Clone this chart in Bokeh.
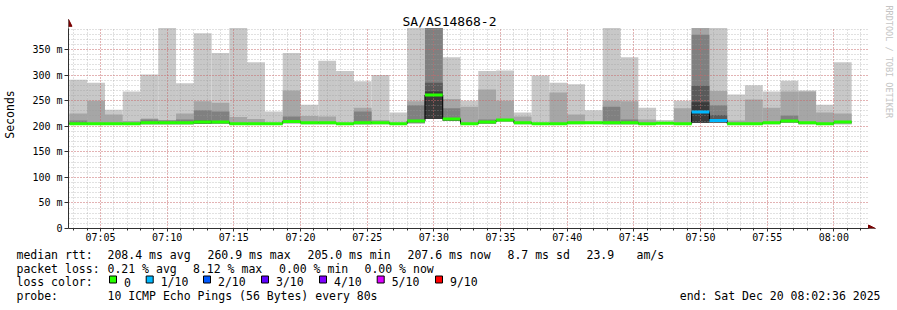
import math
from datetime import datetime, timedelta
from bokeh.plotting import figure
from bokeh.models import (ColumnDataSource, Range1d, FixedTicker, DatetimeTickFormatter,
                          Label, Arrow, NormalHead)
from bokeh.core.properties import value
from bokeh.embed import file_html
from bokeh.resources import INLINE

# ---------------- data ----------------
title = "SA/AS14868-2"
first_bar = datetime(2025, 12, 20, 7, 2, 40)
step_seconds = 80
view_start = datetime(2025, 12, 20, 7, 2, 36)
view_end = datetime(2025, 12, 20, 8, 2, 36)
y_top = 392  # top of the graph area (ms)

# smoke: upper ping values per 80 s step (ms); None = layer not visible
ping_max = [291, 285, 232, 268, 301, 392, 284, 382, 343, 392, 325, 229, 343, 242, 328, 308, 288, 300, 227, 392,
            392, 335, 250, 308, 309, 227, 299, 285, 282, 231, 392, 335, 236, 212, 250, 392, 392, 262, 280, 268,
            289, 270, 242, 325]
smoke2 = [225, 250, 223, 210, 215, 212, 225, 249, 246, 218, 214, None, 270, 220, 219, None, 236, 212, None, 249,
          392, 253, 238, 272, 250, 219, None, 266, 223, None, 250, 249, 213, None, 235, 392, 269, 211, 252, 236,
          268, 268, 227, 225]
smoke3 = [211, None, None, None, 213, 211, 213, 231, 229, None, None, None, 219, None, None, None, 229, None, None, 241,
          392, 235, None, 213, None, None, None, None, None, None, 238, 213, None, None, None, 379, 241, None, None, None,
          221, None, None, None]
smoke4 = [None, None, None, None, None, None, None, 211, None, None, None, None, None, None, None, None, None, None, None, None,
          285, 216, None, None, None, None, None, None, None, None, None, None, None, None, None, 279, 222, None, None, None,
          None, None, None, None]
smoke5 = [None] * 20 + [268] + [None] * 14 + [247] + [None] * 8
ping_min = [203, 203, 203, 203, 204, 204, 204, 205, 205, 203, 203, 203, 206, 204, 204, 203, 204, 204, 203, 206,
            214, 210, 203, 205, 208, 204, 203, 203, 204, 204, 204, 204, 203, 204, 203, 207, 207, 203, 203, 204,
            207, 204, 203, 204]
median_rtt = [205, 205, 205, 205, 207, 207, 207, 208, 208, 205, 205, 205, 209, 207, 207, 205, 207, 207, 205, 210,
              261, 214, 205, 208, 212, 207, 205, 205, 207, 207, 207, 207, 205, 206, 205, 228, 211, 205, 205, 207,
              210, 207, 205, 208]
loss_tenths = [0] * 35 + [1, 1] + [0] * 7

loss_labels = ["0", "1/10", "2/10", "3/10", "4/10", "5/10", "9/10"]
loss_colors = ["#26ff00", "#00b8ff", "#0059ff", "#5e00ff", "#7e00ff", "#dd00ff", "#ff0000"]
smoke_colors = ["#c8c8c8", "#a6a6a6", "#808080", "#5a5a5a", "#3a3a3a"]

y_ticks = [0, 50, 100, 150, 200, 250, 300, 350]
y_tick_labels = ["0", "50 m", "100 m", "150 m", "200 m", "250 m", "300 m", "350 m"]

legend_median = [("median rtt:", 16), ("208.4 ms avg", 107), ("260.9 ms max", 207), ("205.0 ms min", 307),
                 ("207.6 ms now", 407), ("8.7 ms sd", 507), ("23.9", 586), ("am/s", 636)]
legend_loss = [("packet loss:", 16), ("0.21 % avg", 107), ("8.12 % max", 192.5), ("0.00 % min", 278.5),
               ("0.00 % now", 364)]
legend_probe = [("probe:", 16), ("10 ICMP Echo Pings (56 Bytes) every 80s", 107)]
loss_color_title = "loss color:"
end_text = "end: Sat Dec 20 08:02:36 2025"

# ---------------- geometry ----------------
EPOCH = datetime(1970, 1, 1)


def ms(dt):
    return (dt - EPOCH).total_seconds() * 1000.0


W = 897
MAIN_H = 248
ROOT_GAP = 4                       # gap the page leaves between the two roots
LEG_TOP = MAIN_H + ROOT_GAP
LEG_H = 310 - LEG_TOP
FL, FB = 67, 228            # frame left / bottom (canvas px)
AX_RIGHT = 868              # end of the time axis (canvas px)
PX_PER_MS = 179.0 / 350.0   # vertical scale
MONO = "DejaVu Sans Mono"

t0, t1 = ms(view_start), ms(view_end)
ms_per_px_x = (t1 - t0) / (AX_RIGHT - FL)
x_end = t0 + (W - FL) * ms_per_px_x
y_end = FB / PX_PER_MS

n = len(median_rtt)
lefts = [ms(first_bar + timedelta(seconds=step_seconds * i)) for i in range(n)]
rights = [ms(first_bar + timedelta(seconds=step_seconds * (i + 1))) for i in range(n)]

p = figure(width=W, height=MAIN_H, x_axis_type="datetime", title=None,
           x_range=Range1d(t0, x_end), y_range=Range1d(0, y_end),
           output_backend="svg", toolbar_location=None,
           min_border_left=FL, min_border_right=0, min_border_top=0,
           min_border_bottom=MAIN_H - FB)
p.background_fill_color = "white"
p.border_fill_color = "white"
p.outline_line_color = None

# smoke layers (drawn under the grid)
layers = [ping_max, smoke2, smoke3, smoke4, smoke5]
for vals, col in zip(layers, smoke_colors):
    tops = [v if v is not None else lo for v, lo in zip(vals, ping_min)]
    src = ColumnDataSource(dict(left=lefts, right=rights, bottom=ping_min, top=tops))
    p.quad(left="left", right="right", bottom="bottom", top="top", source=src,
           fill_color=col, line_color=None, level="image")

# median: thin black step + loss-coloured thick segments
p.step(x=lefts + [rights[-1]], y=median_rtt + [median_rtt[-1]], mode="after",
       line_color="#000000", line_width=1)
seg = ColumnDataSource(dict(x0=lefts, x1=rights, y=median_rtt,
                            c=[loss_colors[k] for k in loss_tenths]))
p.segment(x0="x0", x1="x1", y0="y", y1="y", source=seg, line_color="c", line_width=3,
          line_cap="butt")

# axes / ticks
major_x = [ms(datetime(2025, 12, 20, 7, 5) + timedelta(minutes=5 * i)) for i in range(12)]
minor_x = [ms(datetime(2025, 12, 20, 7, 3) + timedelta(minutes=i)) for i in range(60)]
p.xaxis.ticker = FixedTicker(ticks=major_x, minor_ticks=minor_x)
fmt = "%H:%M"
p.xaxis.formatter = DatetimeTickFormatter(seconds=fmt, minsec=fmt, minutes=fmt, hourmin=fmt, hours=fmt)
p.yaxis.ticker = FixedTicker(ticks=y_ticks, minor_ticks=list(range(0, y_top, 10)))
p.yaxis.major_label_overrides = {t: l for t, l in zip(y_ticks, y_tick_labels)}
p.xaxis.bounds = (t0, t1)
p.yaxis.bounds = (0, y_top)

for ax in (p.xaxis, p.yaxis):
    ax.axis_line_color = "#303030"
    ax.major_tick_line_color = "#303030"
    ax.minor_tick_line_color = "#303030"
    ax.major_tick_in = 0
    ax.minor_tick_in = 0
    ax.major_label_text_font = MONO
    ax.major_label_text_font_size = "10px"
    ax.major_label_text_color = "#000000"
p.xaxis.major_tick_out = 3
p.xaxis.minor_tick_out = 2
p.xaxis.major_label_standoff = 0
p.yaxis.major_tick_out = 4
p.yaxis.minor_tick_out = 0
p.yaxis.major_label_standoff = 2
p.yaxis.axis_label = "Seconds"
p.yaxis.axis_label_text_font = MONO
p.yaxis.axis_label_text_font_size = "11.5px"
p.yaxis.axis_label_text_font_style = "normal"
p.yaxis.axis_label_text_color = "#000000"
p.yaxis.axis_label_standoff = 12

for g in (p.xgrid, p.ygrid):
    g.grid_line_color = "#e8474b"
    g.grid_line_alpha = 0.6
    g.grid_line_dash = "1 2"
    g.minor_grid_line_color = "#9a9a9a"
    g.minor_grid_line_alpha = 0.6
    g.minor_grid_line_dash = "1 2"
try:
    p.xgrid.cross_bounds = (0, y_top)
    p.ygrid.cross_bounds = (t0, t1)
except Exception as e:
    print("cross_bounds unsupported:", e)


def label(txt, cx, cy, size, align="left", baseline="alphabetic", color="#000000", angle=0.0):
    p.add_layout(Label(x=cx - FL, y=FB - cy, x_units="screen", y_units="screen", text=txt,
                       text_font=MONO, text_font_size=f"{size}px", text_color=color,
                       text_align=align, text_baseline=baseline, angle=angle))


label(title, 448, 21, 13, align="center")
label("RRDTOOL / TOBI OETIKER", 887, 5, 8.5, baseline="middle", color="#c4c4c4",
      angle=-math.pi / 2)

# axis arrows
head = dict(size=7, fill_color="#7a0000", line_color="#7a0000")
p.add_layout(Arrow(x_start=t0, y_start=y_top - 2, x_end=t0, y_end=y_top + 17,
                   line_color="#303030", end=NormalHead(**head)))
p.add_layout(Arrow(x_start=t1 - 2 * ms_per_px_x, y_start=0, x_end=t1 + 7 * ms_per_px_x, y_end=0,
                   line_color="#303030", end=NormalHead(**head)))

# ---------------- legend strip: a second root, its frame spans the full width ----------------
q = figure(width=W, height=LEG_H, x_range=Range1d(0, W), y_range=Range1d(310, LEG_TOP),
           output_backend="svg", toolbar_location=None, title=None,
           x_axis_location=None, y_axis_location=None,
           min_border_left=0, min_border_right=0, min_border_top=0, min_border_bottom=0)
q.grid.visible = False
q.outline_line_color = None
q.background_fill_color = "white"
q.border_fill_color = "white"

base = [258.3, 272.1, 285.9, 299.7]
txt, tx, ty, al = [], [], [], []
for row, items in ((0, legend_median), (1, legend_loss), (3, legend_probe)):
    for t, x in items:
        txt.append(t); tx.append(x); ty.append(base[row]); al.append("left")
txt.append(loss_color_title); tx.append(16); ty.append(base[2]); al.append("left")
sq_x = [109, 145.7, 203, 261, 319, 376.7, 435]
for sx, lab in zip(sq_x, loss_labels):
    txt.append(lab); tx.append(sx + 14.5); ty.append(base[2]); al.append("left")
txt.append(end_text); tx.append(880); ty.append(base[3]); al.append("right")

lab_src = ColumnDataSource(dict(x=tx, y=ty, text=txt, align=al))
q.text(x="x", y="y", text="text", text_align="align", source=lab_src, text_baseline="alphabetic",
       text_font=value(MONO), text_font_size=value("11.5px"), text_color="#000000")
q.quad(left=sq_x, right=[s + 7 for s in sq_x], top=[279.5] * 7, bottom=[286.5] * 7,
       fill_color=loss_colors, line_color="#000000", line_width=1)

open("out.html", "w").write(file_html([p, q], INLINE))
